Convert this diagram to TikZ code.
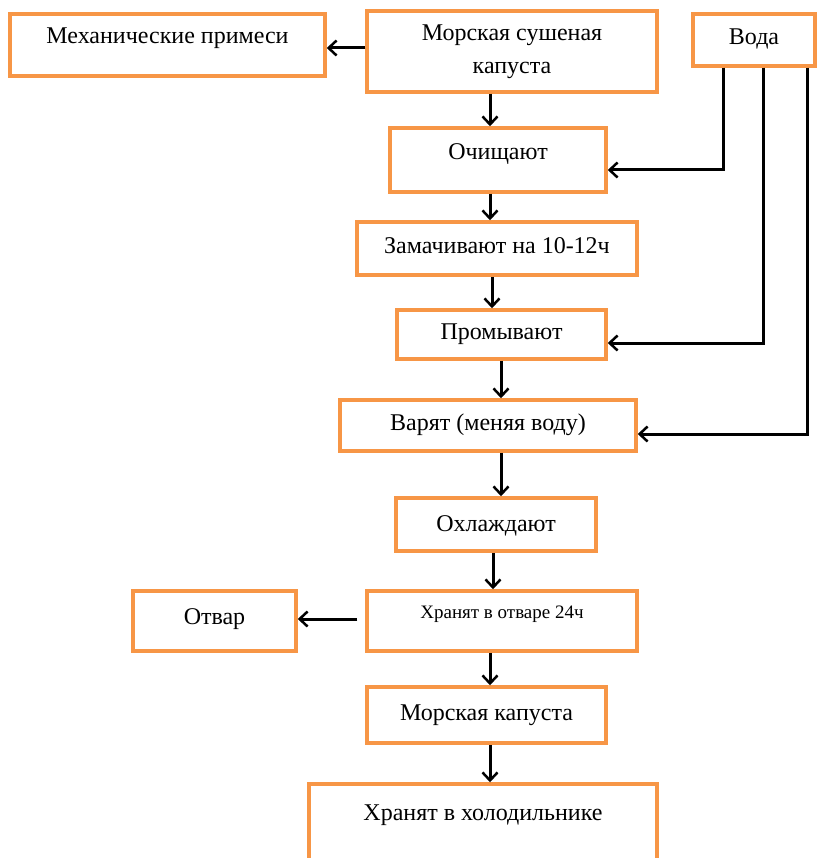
\documentclass[tikz,border=0pt]{standalone}
\usepackage{fontspec}
\setmainfont{Liberation Serif}
\usetikzlibrary{arrows.meta}
\definecolor{boxor}{HTML}{F79646}
\begin{document}
\begin{tikzpicture}[x=1pt,y=-1pt,
  box/.style={draw=boxor, line width=3.5pt, rectangle, inner sep=0pt,
    font=\fontsize{24}{28}\selectfont},
  one/.style={text height=16pt},
  arr/.style={line width=3pt, -{Straight Barb[length=8pt,width=15pt,line width=2.5pt]}}]
\useasboundingbox (0,0) rectangle (817,858);
\clip (0,0) rectangle (817,858);
\fill[white] (0,0) rectangle (817,858);
% boxes
\node[box, one, minimum width=315, minimum height=62, text depth=18pt] (mech) at (167.5,45) {Механические примеси};
\node[box, minimum width=290, minimum height=81, align=center, font=\fontsize{24}{33}\selectfont] (dry) at (512,51.5) {Морская сушеная\\капуста};
\node[box, one, minimum width=122, minimum height=52, text depth=7pt] (voda) at (754,40) {Вода};
\node[box, one, minimum width=216, minimum height=64, text depth=16pt] (clean) at (498,160) {Очищают};
\node[box, one, minimum width=280, minimum height=53, text depth=6pt] (soak) at (497,248.5) {Замачивают на 10-12ч};
\node[box, one, minimum width=209, minimum height=49, text depth=6pt] (wash) at (501.5,334.5) {Промывают};
\node[box, one, minimum width=296, minimum height=51, text depth=7pt] (boil) at (488,425.5) {Варят (меняя воду)};
\node[box, one, minimum width=200, minimum height=53, text depth=2pt] (cool) at (496,524.5) {Охлаждают};
\node[box, one, minimum width=270, minimum height=60, text depth=22pt, font=\fontsize{19}{23}\selectfont] (store) at (502,621) {Хранят в отваре 24ч};
\node[box, one, minimum width=163, minimum height=60, text depth=9pt] (otvar) at (214.5,621) {Отвар};
\node[box, one, minimum width=239, minimum height=56, text depth=5pt] (kap) at (486.5,715) {Морская капуста};
\node[box, one, minimum width=348, minimum height=86, text depth=30pt] (fridge) at (483,827) {Хранят в холодильнике};
% main flow
\draw[arr] (dry.west |- 0,48) -- (mech.east |- 0,48);
\draw[arr] (490,0 |- dry.south) -- (490,0 |- clean.north);
\draw[arr] (490,0 |- clean.south) -- (490,0 |- soak.north);
\draw[arr] (492,0 |- soak.south) -- (492,0 |- wash.north);
\draw[arr] (501,0 |- wash.south) -- (501,0 |- boil.north);
\draw[arr] (501,0 |- boil.south) -- (501,0 |- cool.north);
\draw[arr] (493,0 |- cool.south) -- (493,0 |- store.north);
\draw[arr] ([xshift=-8pt]store.west |- 0,619) -- (otvar.east |- 0,619);
\draw[arr] (490,0 |- store.south) -- (490,0 |- kap.north);
\draw[arr] (490,0 |- kap.south) -- (490,0 |- fridge.north);
% water lines
\draw[arr] (723,0 |- voda.south) |- (clean.east |- 0,170);
\draw[arr] (763,0 |- voda.south) |- (wash.east |- 0,343);
\draw[arr] (807,0 |- voda.south) |- (boil.east |- 0,434);
\end{tikzpicture}
\end{document}
